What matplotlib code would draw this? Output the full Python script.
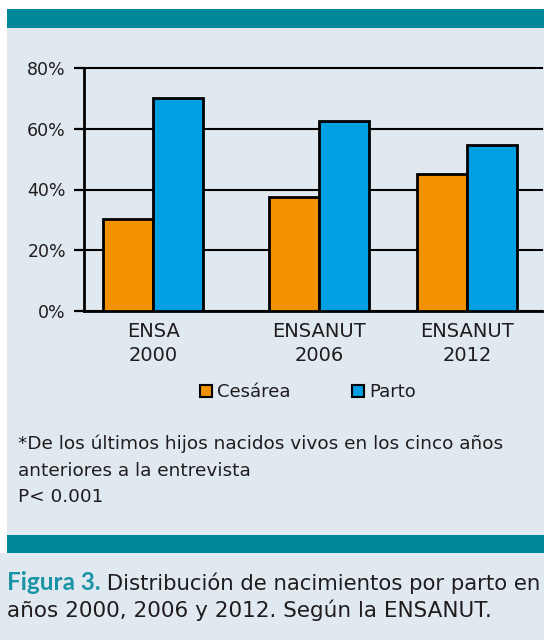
import matplotlib
matplotlib.use("Agg")
import matplotlib.pyplot as plt
from matplotlib.patches import Rectangle, Patch
import numpy as np

# data
surveys = ["ENSA\n2000", "ENSANUT\n2006", "ENSANUT\n2012"]
cesarea = [30.3, 37.5, 45.2]
parto = [70.0, 62.6, 54.7]
yticks = [0, 20, 40, 60, 80]
series_names = ["Cesárea", "Parto"]
note_lines = ["*De los últimos hijos nacidos vivos en los cinco años",
              "anteriores a la entrevista",
              "P< 0.001"]
caption_bold = "Figura 3."
caption_rest = " Distribución de nacimientos por parto en los"
caption_line2 = "años 2000, 2006 y 2012. Según la ENSANUT."

# styling
plt.rcParams['font.family'] = ['DejaVu Sans']
teal = "#00879a"
panel = "#e1e9f0"
orange = "#f39200"
blue = "#009fe3"
txt = "#1f1c1d"
W, H = 544, 640

fig = plt.figure(figsize=(W / 100, H / 100), dpi=100)
fig.patch.set_facecolor("white")

def fx(px):
    return px / W

def fy(py):
    return 1 - py / H

def band(x0, y0, x1, y1, color):
    # rectangle given in pixel coords (top-left origin)
    fig.patches.append(Rectangle((fx(x0), fy(y1)), fx(x1 - x0), (y1 - y0) / H,
                                 transform=fig.transFigure, facecolor=color,
                                 edgecolor="none", zorder=0))

band(7, 28, W, 535, panel)
band(0, 553, W, H, panel)
band(7, 9, W, 28, teal)
band(7, 535, W, 553, teal)

# axes
ax = fig.add_axes([fx(84), fy(311), fx(542 - 84), (311 - 68) / H], zorder=2)
ax.set_facecolor("none")

group_x = np.array([0, 1, 1.89])
width = 0.3
ax.bar(group_x - width / 2, cesarea, width, color=orange, edgecolor="black", linewidth=2, zorder=3)
ax.bar(group_x + width / 2, parto, width, color=blue, edgecolor="black", linewidth=2, zorder=3)

ax.set_ylim(0, 80)
ax.set_xlim(-0.416, 2.34)
ax.set_yticks(yticks)
ax.set_yticklabels([f"{v}%" for v in yticks], fontsize=12.5, color=txt)
ax.set_xticks(group_x)
ax.set_xticklabels(surveys, fontsize=14, color=txt, linespacing=1.34)
ax.tick_params(axis="x", length=0, pad=8)
ax.tick_params(axis="y", length=7, width=1.6, pad=6, color="black")
ax.yaxis.grid(True, color="black", linewidth=1.5)
for gl in ax.get_ygridlines():
    gl.set_clip_on(False)
ax.set_axisbelow(True)
for s in ["top", "right"]:
    ax.spines[s].set_visible(False)
ax.spines["left"].set_linewidth(2)
ax.spines["bottom"].set_linewidth(2)

# legend
handles = [Patch(facecolor=orange, edgecolor="black", linewidth=1.5),
           Patch(facecolor=blue, edgecolor="black", linewidth=1.5)]
leg = fig.legend(handles, series_names, loc="center", bbox_to_anchor=(fx(308), fy(392)),
                 ncol=2, frameon=False, fontsize=13, handlelength=0.67, handleheight=0.67,
                 handletextpad=0.28, columnspacing=3.4, borderpad=0)
for t in leg.get_texts():
    t.set_color(txt)

# footnote
for i, line in enumerate(note_lines):
    fig.text(fx(18), fy(444 + 26.5 * i), line, fontsize=13.3, color=txt, va="center", ha="left")

# caption
fig.canvas.draw()
r = fig.canvas.get_renderer()
cb = fig.text(fx(7), fy(583), caption_bold, fontsize=17.5, color="#1b93a6", fontweight="bold",
              family="Lato", va="center", ha="left")
bb = cb.get_window_extent(renderer=r)
fig.text(bb.x1 / W, fy(583), caption_rest, fontsize=15.3, color=txt, va="center", ha="left")
fig.text(fx(7), fy(610), caption_line2, fontsize=15.5, color=txt, va="center", ha="left")

fig.savefig("out.png", dpi=100)
